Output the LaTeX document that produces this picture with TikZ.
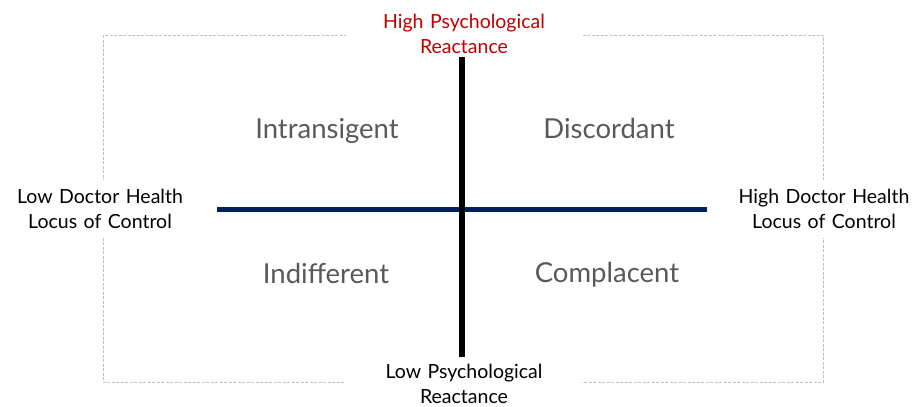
\documentclass[tikz,border=0pt]{standalone}
\usepackage{fontspec}
\setmainfont{Lato}
\definecolor{navy}{HTML}{002060}
\definecolor{redlab}{HTML}{C00000}
\definecolor{quad}{HTML}{595959}
\definecolor{boxgray}{HTML}{C0C0C0}
\tikzset{
  axislabel/.style={fill=white, inner sep=0pt, align=center, font=\fontsize{19.5}{25}\selectfont},
  quadlabel/.style={text=quad, font=\fontsize{27.5}{30}\selectfont},
  frame/.style={draw=boxgray, line width=0.9pt, dash pattern=on 3pt off 1.5pt},
}
\begin{document}
\begin{tikzpicture}[x=1pt,y=-1pt]
\useasboundingbox (0,0) rectangle (914,407);
\draw[frame] (103,35) rectangle (823,382);
\node[axislabel, text=redlab, text width=236pt, minimum height=52pt] (top) at (464,34) {High Psychological\\Reactance};
\node[axislabel, text width=236pt, minimum height=52pt] (bottom) at (464,384) {Low Psychological\\Reactance};
\node[axislabel, text width=196pt, minimum height=58pt] (left) at (100,209) {Low Doctor Health\\Locus of Control};
\node[axislabel, text width=196pt, minimum height=58pt] (right) at (824,209) {High Doctor Health\\Locus of Control};
\coordinate (hl) at (217,209);
\coordinate (hr) at (707,209);
\coordinate (vt) at (462,57);
\coordinate (vb) at (462,357);
\draw[navy, line width=5pt] (hl) -- (hr);
\draw[black, line width=6pt] (vt) -- (vb);
\node[quadlabel] (intr) at (327,131) {Intransigent};
\node[quadlabel] (disc) at (609,128) {Discordant};
\node[quadlabel] (indi) at (326,273) {Indifferent};
\node[quadlabel] (comp) at (607,275) {Complacent};
\end{tikzpicture}
\end{document}
